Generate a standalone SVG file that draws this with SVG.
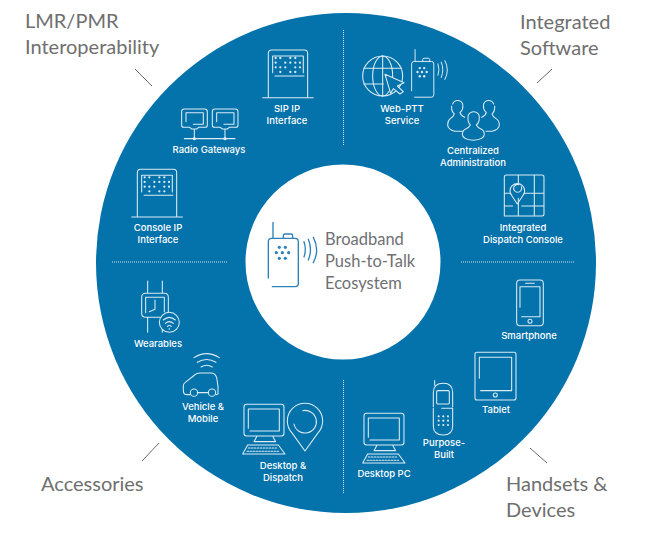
<svg xmlns="http://www.w3.org/2000/svg" xmlns:xlink="http://www.w3.org/1999/xlink" width="650" height="534" viewBox="0 0 650 534">
<style>
.title{font-family:Lato,"Open Sans",sans-serif;font-size:20px;fill:#6f6f6f}
.center{font-family:Lato,"Open Sans",sans-serif;font-size:16.5px;fill:#6f7074}
.lab{font-family:Inter,"Liberation Sans",sans-serif;font-size:9.5px;font-weight:500;fill:#fff;text-anchor:middle}
.tick{stroke:#6a6a6a;stroke-width:1;fill:none}
.div{stroke:#cfe2ee;stroke-width:1;stroke-dasharray:1 1;fill:none}
.ic{fill:none;stroke:#dcebf4;stroke-width:3.2;stroke-linecap:round;stroke-linejoin:round;color:#dcebf4}
.rad{fill:none;stroke:currentColor;stroke-width:4;stroke-linecap:round;stroke-linejoin:round}
.dot{fill:currentColor;stroke:none}
</style>
<defs>
<g id="kiosk">
<path d="M505,200V70q0-10 10-10H613q10,0 10,10V200M488,203H640M518,128V78H610V128M525,138H612"/>
<g class="dot"><circle cx="527" cy="84" r="3.4"/><circle cx="541" cy="84" r="3.4"/><circle cx="571" cy="84" r="3.4"/><circle cx="586" cy="84" r="3.4"/><circle cx="527" cy="98" r="3.4"/><circle cx="556" cy="98" r="3.4"/><circle cx="571" cy="98" r="3.4"/><circle cx="586" cy="98" r="3.4"/><circle cx="600" cy="98" r="3.4"/><circle cx="527" cy="112" r="3.4"/><circle cx="541" cy="112" r="3.4"/><circle cx="556" cy="112" r="3.4"/><circle cx="586" cy="112" r="3.4"/><circle cx="600" cy="112" r="3.4"/><circle cx="541" cy="126" r="3.4"/><circle cx="571" cy="126" r="3.4"/><circle cx="586" cy="126" r="3.4"/></g>
</g>
<g id="gw">
<path d="M253,237H314q8,0 8,8V286q0,6-6,6H296l-6,5H275l-6-5H251q-6,0-6-6V245q0-8 8-8ZM258,275V248H310V283H280M283,298V325"/>
<circle class="dot" cx="283" cy="326" r="5"/>
</g>
<g id="radio">
<path class="rad" d="M99,97V145M85,264V155q0-10 10-10H165q10,0 10,10V280q0,10-10,10H97M130,145v-8q0-5 5-5h18q5,0 5,5v8M192,155q8,23 0,46M205,148q13,30 0,62M220,142q20,38 0,76"/>
<g class="dot"><circle cx="109" cy="188" r="4.8"/><circle cx="146" cy="188" r="4.8"/><circle cx="127" cy="188" r="4.8"/><circle cx="118" cy="172" r="4.8"/><circle cx="136" cy="172" r="4.8"/><circle cx="118" cy="205" r="4.8"/><circle cx="136" cy="205" r="4.8"/></g>
</g>
<g id="desk">
<path d="M440,403H544q8,0 8,8V490q0,8-8,8H440q-8,0-8-8V411q0-8 8-8ZM445,475V417H538V483H450M470,500l-8,15h65l-8-15M443,525H535L555,552H428Z"/>
<path d="M445,534h85M441,544h96" stroke-dasharray="5 4"/>
</g>
</defs>

<circle id="ring" cx="346" cy="263" r="250" fill="#0472ab"/>
<circle id="hub" cx="343" cy="262" r="97.5" fill="#fff"/>

<g id="connectors">
<path class="tick" d="M135,69L152,86M552,69L537,83M159,443L142,461M530,448L547,463"/>
<path class="div" d="M343.5,30V145M343.5,380V493M112,262H227M461,262H575"/>
</g>

<g id="center-node">
<use xlink:href="#radio" href="#radio" transform="translate(240,190) scale(.3333)" style="color:#2c82b8"/>
<text class="center" x="325" y="245">Broadband</text>
<text class="center" x="325" y="267">Push-to-Talk</text>
<text class="center" x="325" y="289">Ecosystem</text>
</g>

<g id="cat-lmr"><text class="title" x="25" y="28">LMR/PMR</text><text class="title" x="25" y="54">Interoperability</text></g>
<g id="cat-software"><text class="title" x="520" y="29">Integrated</text><text class="title" x="520" y="55">Software</text></g>
<g id="cat-accessories"><text class="title" x="41" y="491">Accessories</text></g>
<g id="cat-handsets"><text class="title" x="506" y="491">Handsets &amp;</text><text class="title" x="506" y="517">Devices</text></g>

<g id="sip">
<use xlink:href="#kiosk" href="#kiosk" class="ic" transform="translate(100,30) scale(.3333)"/>
<text class="lab" x="287" y="112">SIP IP</text><text class="lab" x="287" y="124">Interface</text>
</g>
<g id="gateways">
<g class="ic" transform="translate(100,30) scale(.3333)">
<use xlink:href="#gw" href="#gw"/><use xlink:href="#gw" href="#gw" transform="translate(92,0)"/>
<path d="M253,326H405"/>
</g>
<text class="lab" x="209" y="153">Radio Gateways</text>
</g>
<g id="console">
<use xlink:href="#kiosk" href="#kiosk" class="ic" transform="translate(100,30) scale(.3333) translate(-393,358)"/>
<text class="lab" x="158" y="231">Console IP</text><text class="lab" x="158" y="243">Interface</text>
</g>

<g id="webptt">
<g class="ic" transform="translate(340,30) scale(.3333)">
<circle cx="128" cy="138" r="60"/>
<ellipse cx="128" cy="138" rx="30" ry="60"/>
<path d="M128,78V198M72,115H184M72,162H130"/>
<path d="M135,133L192,158L172,168L190,185L180,192L160,176L152,190Z" fill="#0472ab"/>
</g>
<use xlink:href="#radio" href="#radio" transform="translate(340,30) scale(.3333) translate(152,-13) scale(.74)" style="color:#dcebf4"/>
<text class="lab" x="402" y="112">Web-PTT</text><text class="lab" x="402" y="124">Service</text>
</g>
<g id="admin">
<g class="ic" transform="translate(340,30) scale(.3333)">
<path d="M338,222a16,16 0 0 1 30,0q3,16-8,26q2,8 14,14M335,228q-2,14 8,24q-2,8-12,14q-8,6-8,18q0,14 22,20h22"/>
<path d="M461,222a16,16 0 0 0-30,0q-3,16 8,26q-2,8-14,14M464,228q2,14-8,24q2,8 12,14q10,6 10,18q0,14-22,20h-18"/>
<path d="M385,255a18,18 0 0 1 32,0q4,20-8,30q4,8 14,12q10,5 10,16q0,16-33,18q-33-2-33-18q0-11 10-16q10-4 14-12q-10-10-6-30Z"/>
</g>
<text class="lab" x="473" y="154">Centralized</text><text class="lab" x="473" y="166">Administration</text>
</g>
<g id="dispatch">
<g class="ic" transform="translate(340,30) scale(.3333)">
<path d="M500,435H606q6,0 6,6V552q0,6-6,6H493V441q0-6 7-6ZM535,435V460M583,435V558M493,490H512M552,490H612M493,528H518M545,528H612M535,505V558"/>
<path d="M532,522L516,498a22,22 0 1 1 32,0ZM522,470a12,12 0 1 0 22,0M522,470q6-8 14-6"/>
</g>
<text class="lab" x="523" y="231">Integrated</text><text class="lab" x="523" y="243">Dispatch Console</text>
</g>

<g id="smartphone">
<g class="ic" transform="translate(340,270) scale(.3333)">
<rect x="530" y="30" width="80" height="137" rx="10"/>
<path d="M557,40H583M540,112V50H600V140H545"/>
<circle cx="570" cy="154" r="6"/>
</g>
<text class="lab" x="529" y="339">Smartphone</text>
</g>
<g id="tablet">
<g class="ic" transform="translate(340,270) scale(.3333)">
<rect x="405" y="247" width="123" height="143" rx="6"/>
<path d="M418,325V262H515V362H422"/>
<circle cx="466" cy="375" r="6"/>
</g>
<text class="lab" x="496" y="413">Tablet</text>
</g>
<g id="purpose">
<g class="ic" transform="translate(340,270) scale(.3333)">
<path d="M284,332V346M280,410V368q0-28 30-28q28,0 28,28V410M305,415H338M280,415V468q0,27 30,27q28,0 28-27V415"/>
<rect x="290" y="362" width="38" height="40" rx="3"/>
<g class="dot"><circle cx="296" cy="439" r="3.2"/><circle cx="310" cy="439" r="3.2"/><circle cx="324" cy="439" r="3.2"/><circle cx="296" cy="452" r="3.2"/><circle cx="310" cy="452" r="3.2"/><circle cx="324" cy="452" r="3.2"/><circle cx="296" cy="465" r="3.2"/><circle cx="310" cy="465" r="3.2"/><circle cx="324" cy="465" r="3.2"/></g>
</g>
<text class="lab" x="444" y="446">Purpose-</text><text class="lab" x="444" y="458">Built</text>
</g>
<g id="desktop-pc">
<use xlink:href="#desk" href="#desk" class="ic" transform="translate(220,279) scale(.3333)"/>
<text class="lab" x="384" y="477">Desktop PC</text>
</g>

<g id="wearables">
<g class="ic" transform="translate(100,270) scale(.3333)">
<path d="M143,33V70M187,33V70M143,142V187M187,142V187M125,82q0-12 12-12H193q12,0 12,12V135M125,82V130q0,12 12,12H180"/>
<path d="M137,128V82H193V125M165,90V118L148,125"/>
<circle cx="208" cy="157" r="30" fill="#0472ab"/>
<path d="M190,150q18-16 36,0M196,160q12-10 24,0M202,169q6-5 12,0"/>
<circle class="dot" cx="208" cy="177" r="2.5"/>
</g>
<text class="lab" x="158" y="347">Wearables</text>
</g>
<g id="vehicle">
<g class="ic" transform="translate(100,270) scale(.3333)">
<path d="M282,263q38-24 76,0M292,277q28-17 56,0M303,291q17-10 34,0"/>
<path d="M270,374H262q-12,0-12-12V347q0-6 6-10l28-22q6-6 16-6h32q14,0 18,14l4,25V372L348,374M292,368H325"/>
<circle cx="282" cy="368" r="11"/><circle cx="336" cy="368" r="11"/>
</g>
<text class="lab" x="203" y="410">Vehicle &amp;</text><text class="lab" x="203" y="422">Mobile</text>
</g>
<g id="desktop-dispatch">
<use xlink:href="#desk" href="#desk" class="ic" transform="translate(100,270) scale(.3333)"/>
<g class="ic" transform="translate(100,270) scale(.3333)">
<path d="M615,543L577,490a53,53 0 1 1 76,0Z"/>
<path d="M608,422a34,34 0 1 1-26,40"/>
</g>
<text class="lab" x="283" y="469">Desktop &amp;</text><text class="lab" x="283" y="481">Dispatch</text>
</g>
</svg>
